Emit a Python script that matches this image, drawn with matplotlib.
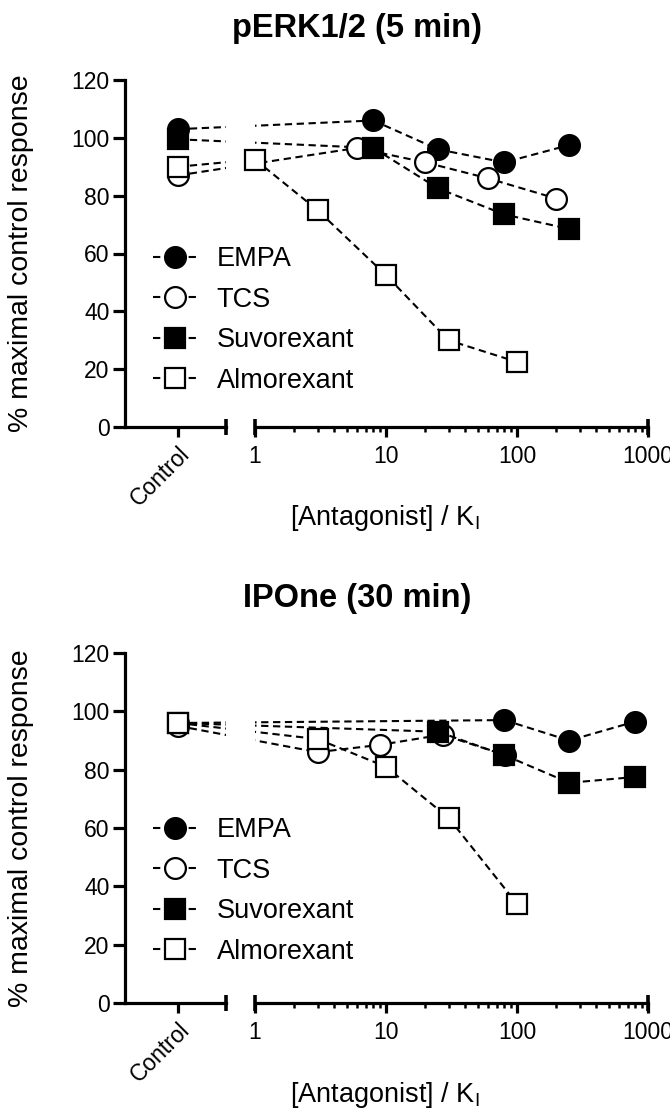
import matplotlib
matplotlib.use("Agg")
import matplotlib.pyplot as plt

plt.rcParams['font.family'] = ['Liberation Sans', 'DejaVu Sans']

# ---------------- data ----------------
series_names = ["EMPA", "TCS", "Suvorexant", "Almorexant"]

# pERK1/2 (5 min)
perk_control = [103, 87, 99.5, 90]
perk_x = [[8, 25, 80, 250],
          [6, 20, 60, 200],
          [8, 25, 80, 250],
          [1, 3, 10, 30, 100]]
perk_y = [[106, 96, 91.5, 97.5],
          [96.5, 91.5, 86, 79],
          [96.5, 82.5, 73.5, 68.5],
          [92.5, 75, 52.5, 30, 22.5]]

# IPOne (30 min)
ipone_control = [96, 95, 96, 96]
ipone_x = [[80, 250, 800],
           [3, 9, 27, 81],
           [25, 80, 250, 800],
           [3, 10, 30, 100]]
ipone_y = [[97, 90, 96.5],
           [86, 88.5, 92, 85],
           [93, 85, 75.5, 77.5],
           [90.5, 81, 63.5, 34]]

y_ticks = [0, 20, 40, 60, 80, 100, 120]
log_ticks = [1, 10, 100, 1000]
log_tick_labels = ["1", "10", "100", "1000"]

# ---------------- styles ----------------
STYLES = [dict(marker='o', mfc='black'),
          dict(marker='o', mfc='white'),
          dict(marker='s', mfc='black'),
          dict(marker='s', mfc='white')]
LINE = dict(color='black', lw=1.5, ls=(0, (3.5, 2.2)))
MS = 15
MEW = 1.6
TICK_FS = 16.5
LABEL_FS = 19.5

W, H = 670, 1118
fig = plt.figure(figsize=(W / 100, H / 100), dpi=100)


def fx(px):
    return px / W


def fy(px):
    return 1 - px / H


def panel(top_px, bottom_px, title, title_px, controls, xs, ys, legend_top_px):
    hgt = (bottom_px - top_px) / H
    ax_c = fig.add_axes([fx(125), fy(bottom_px), fx(226) - fx(125), hgt])
    ax_l = fig.add_axes([fx(255), fy(bottom_px), fx(648) - fx(255), hgt])
    for ax in (ax_c, ax_l):
        ax.set_facecolor('none')
        ax.set_ylim(0, 120)
        ax.spines['top'].set_visible(False)
        ax.spines['right'].set_visible(False)
        ax.spines['bottom'].set_linewidth(2.3)
        ax.spines['left'].set_linewidth(2.3)
    ax_c.set_xlim(-0.525, 0.475)
    ax_l.set_xscale('log')
    ax_l.set_xlim(1, 1000)
    ax_l.spines['left'].set_visible(False)
    ax_l.set_yticks([])

    ax_c.set_yticks(y_ticks)
    ax_c.set_yticklabels([str(t) for t in y_ticks], fontsize=TICK_FS)
    ax_c.set_xticks([0])
    ax_c.set_xticklabels(["Control"], rotation=45, ha='right',
                         rotation_mode='anchor', fontsize=TICK_FS)
    ax_c.tick_params(axis='y', length=9, width=2.3, pad=2)
    ax_c.tick_params(axis='x', length=7, width=2.3, pad=4)
    ax_c.set_ylabel("% maximal control response", fontsize=20.5)
    ax_c.yaxis.set_label_coords(-0.90, 0.5)

    ax_l.set_xticks(log_ticks)
    ax_l.set_xticklabels(log_tick_labels, fontsize=TICK_FS)
    ax_l.tick_params(axis='x', which='major', length=7, width=2.3, pad=6)
    ax_l.tick_params(axis='x', which='minor', length=3.5, width=1.8)
    ax_l.set_xlabel(r"[Antagonist] / K$_\mathregular{I}$", fontsize=LABEL_FS)
    ax_l.xaxis.set_label_coords(0.33, -0.22)

    # broken-axis end caps
    for ax, xe in ((ax_c, 1), (ax_l, 0), (ax_l, 1)):
        ax.plot([xe], [0], transform=ax.transAxes, marker='|', ms=12, mew=2.6,
                color='black', clip_on=False)

    handles = []
    for i in range(len(series_names)):
        st = STYLES[i]
        # data points
        ax_c.plot([0], [controls[i]], ls='none', mec='black', ms=MS, mew=MEW,
                  clip_on=False, zorder=3 + i, **st)
        h, = ax_l.plot(xs[i], ys[i], mec='black', ms=MS, mew=MEW, clip_on=False,
                       zorder=3 + i, label=series_names[i], **st, **LINE)
        handles.append(h)
        # dashed link from the control point to the first concentration
        disp0 = ax_c.transData.transform((0, controls[i]))
        xl = ax_l.transData.inverted().transform(disp0)[0]
        ax_l.plot([xl, xs[i][0]], [controls[i], ys[i][0]], zorder=2, **LINE)
        disp1 = ax_l.transData.transform((xs[i][0], ys[i][0]))
        xc = ax_c.transData.inverted().transform(disp1)[0]
        ax_c.plot([0, xc], [controls[i], ys[i][0]], zorder=2, **LINE)

    fig.legend(handles=handles, loc='upper left',
               bbox_to_anchor=(fx(153), fy(legend_top_px)),
               frameon=False, fontsize=LABEL_FS, handlelength=1.6,
               handletextpad=0.75, labelspacing=0.54, borderpad=0,
               borderaxespad=0, numpoints=1)

    fig.text(fx(357), fy(title_px), title, fontsize=23.5, fontweight='bold',
             ha='center', va='center')


panel(80, 427, "pERK1/2 (5 min)", 28, perk_control, perk_x, perk_y, 246)
panel(653, 1003, "IPOne (30 min)", 598, ipone_control, ipone_x, ipone_y, 817)

fig.savefig("out.png", dpi=100)
